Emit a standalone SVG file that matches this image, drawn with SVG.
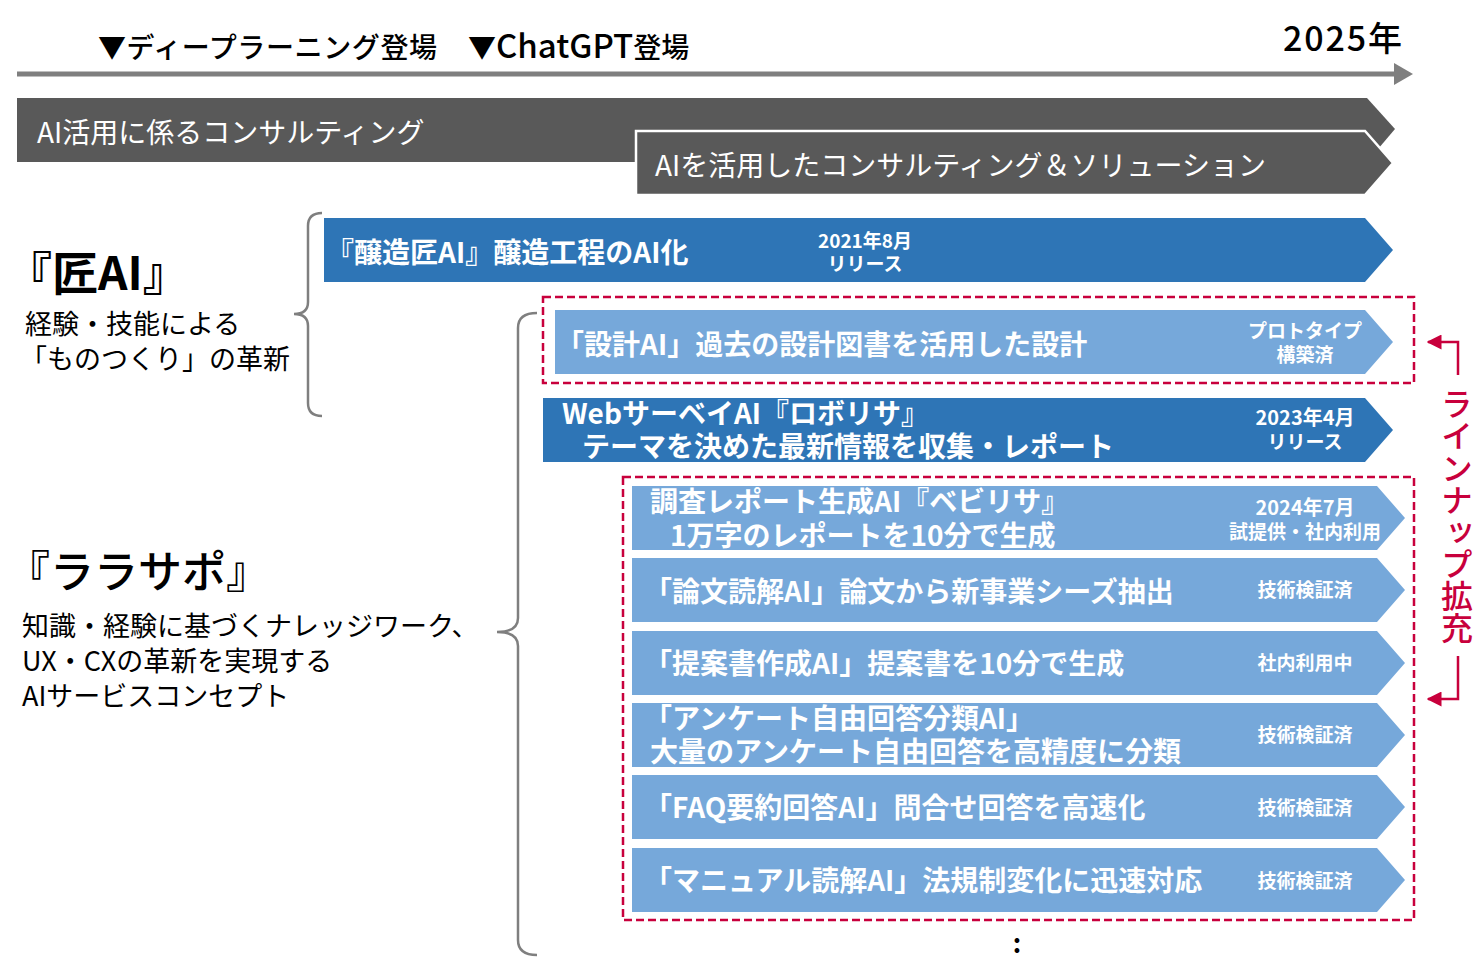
<svg xmlns="http://www.w3.org/2000/svg" width="1484" height="976" viewBox="0 0 1484 976">
<style>
text{font-family:"Noto Sans CJK JP","Noto Sans",sans-serif}
.blk{fill:#000}
.bar{font-size:28px;font-weight:700;fill:#fff}
.gbar{font-size:28px;fill:#fff}
.lbl{font-size:19px;font-weight:700;fill:#fff;text-anchor:middle}
.dark{fill:#2E75B6}
.light{fill:#76A8DA}
.gray{fill:#595959}
.dash{fill:none;stroke:#C8003C;stroke-width:2.5;stroke-dasharray:8 4}
.brace{fill:none;stroke:#7F7F7F;stroke-width:2.5}
.red{fill:none;stroke:#C8003C;stroke-width:2.5}
</style>
<defs>
<marker id="ah" viewBox="0 0 10 10" refX="9" refY="5" markerWidth="6" markerHeight="6" orient="auto" markerUnits="strokeWidth">
<path d="M0,0 L10,5 L0,10 z" fill="#C8003C"/>
</marker>
</defs>

<g id="timeline">
<line x1="17" y1="74" x2="1396" y2="74" stroke="#7F7F7F" stroke-width="5"/>
<polygon points="1394,63 1413,74 1394,85" fill="#7F7F7F"/>
<text x="98" y="58" class="blk" font-size="28" font-weight="500" textLength="339">▼ディープラーニング登場</text>
<text x="468" y="58" class="blk" font-size="28" font-weight="500">▼<tspan font-size="33">ChatGPT</tspan>登場</text>
<text x="1283" y="51" class="blk" font-size="34" font-weight="500" textLength="119">2025年</text>
</g>

<g id="consulting1">
<polygon class="gray" points="17,98 1367,98 1395,129 1367,162 17,162"/>
<text x="37" y="143" class="gbar" font-size="27.5">AI活用に係るコンサルティング</text>
</g>
<g id="consulting2">
<polygon class="gray" points="636,131 1365,131 1393,163 1365,195 636,195" stroke="#fff" stroke-width="2.5"/>
<text x="655" y="176" class="gbar" font-size="26.8">AIを活用したコンサルティング＆ソリューション</text>
</g>

<g id="takumi-label">
<text x="6" y="290" class="blk" font-size="46" font-weight="700">『匠AI』</text>
<text x="25" y="334" class="blk" font-size="27">経験・技能による</text>
<text x="20" y="369" class="blk" font-size="27">「ものつくり」の革新</text>
</g>

<g id="larasapo-label">
<text x="6" y="588" class="blk" font-size="44" font-weight="500">『ララサポ』</text>
<text x="22" y="636" class="blk" font-size="27">知識・経験に基づくナレッジワーク、</text>
<text x="22" y="671" class="blk" font-size="27">UX・CXの革新を実現する</text>
<text x="22" y="706" class="blk" font-size="27">AIサービスコンセプト</text>
</g>

<g id="connectors">
<path class="brace" d="M322,213 Q308,213 308,226 L308,302 Q308,314 294,314 Q308,314 308,326 L308,403 Q308,416 322,416"/>
<path class="brace" d="M537,313 Q518,313 518,328 L518,618 Q518,632 497,632 Q518,632 518,646 L518,940 Q518,955 537,955"/>
<polyline class="red" points="1458,375 1458,342 1428,342" marker-end="url(#ah)"/>
<polyline class="red" points="1458,656 1458,699 1428,699" marker-end="url(#ah)"/>
</g>

<g id="jozo">
<polygon class="dark" points="324,218 1365,218 1393,250 1365,282 324,282"/>
<text x="326" y="263" class="bar" font-size="29.5">『醸造匠AI』醸造工程のAI化</text>
<text class="lbl" font-size="20" font-weight="500"><tspan x="865" y="248">2021年8月</tspan><tspan x="865" y="271">リリース</tspan></text>
</g>

<g id="box1">
<rect class="dash" x="543" y="297" width="871" height="86"/>
</g>
<g id="sekkei">
<polygon class="light" points="555,310 1365,310 1393,342 1365,374 555,374"/>
<text x="556" y="355" class="bar" font-size="28.5">「設計AI」過去の設計図書を活用した設計</text>
<text class="lbl"><tspan x="1305" y="338">プロトタイプ</tspan><tspan x="1305" y="362">構築済</tspan></text>
</g>

<g id="roborisa">
<polygon class="dark" points="543,398 1365,398 1393,430 1365,462 543,462"/>
<text class="bar"><tspan x="562" y="424">WebサーベイAI『ロボリサ』</tspan><tspan x="582" y="457">テーマを決めた最新情報を収集・レポート</tspan></text>
<text class="lbl"><tspan x="1305" y="425" font-size="20">2023年4月</tspan><tspan x="1305" y="449">リリース</tspan></text>
</g>

<g id="box2">
<rect class="dash" x="623" y="477" width="791" height="443"/>
</g>

<g id="beririsa">
<polygon class="light" points="632,486 1377,486 1405,518 1377,550 632,550"/>
<text class="bar"><tspan x="650" y="512">調査レポート生成AI『ベビリサ』</tspan><tspan x="670" y="546">1万字のレポートを10分で生成</tspan></text>
<text class="lbl"><tspan x="1305" y="515" font-size="20">2024年7月</tspan><tspan x="1305" y="539">試提供・社内利用</tspan></text>
</g>
<g id="ronbun">
<polygon class="light" points="632,558 1377,558 1405,590 1377,622 632,622"/>
<text x="644" y="602" class="bar">「論文読解AI」論文から新事業シーズ抽出</text>
<text x="1305" y="597" class="lbl">技術検証済</text>
</g>
<g id="teian">
<polygon class="light" points="632,631 1377,631 1405,663 1377,695 632,695"/>
<text x="644" y="674" class="bar">「提案書作成AI」提案書を10分で生成</text>
<text x="1305" y="670" class="lbl">社内利用中</text>
</g>
<g id="enquete">
<polygon class="light" points="632,703 1377,703 1405,735 1377,767 632,767"/>
<text class="bar"><tspan x="644" y="729">「アンケート自由回答分類AI」</tspan><tspan x="650" y="762">大量のアンケート自由回答を高精度に分類</tspan></text>
<text x="1305" y="742" class="lbl">技術検証済</text>
</g>
<g id="faq">
<polygon class="light" points="632,775 1377,775 1405,807 1377,839 632,839"/>
<text x="644" y="818" class="bar">「FAQ要約回答AI」問合せ回答を高速化</text>
<text x="1305" y="815" class="lbl">技術検証済</text>
</g>
<g id="manual">
<polygon class="light" points="632,848 1377,848 1405,880 1377,912 632,912"/>
<text x="644" y="891" class="bar">「マニュアル読解AI」法規制変化に迅速対応</text>
<text x="1305" y="888" class="lbl">技術検証済</text>
</g>

<g id="more">
<text x="1017" y="953" font-family="Liberation Sans, sans-serif" font-size="26" font-weight="700" text-anchor="middle" fill="#000">:</text>
</g>

<g id="lineup-label">
<text x="1457" y="388" writing-mode="vertical-rl" font-size="32" font-weight="500" fill="#C8003C">ラインナップ拡充</text>
</g>
</svg>
